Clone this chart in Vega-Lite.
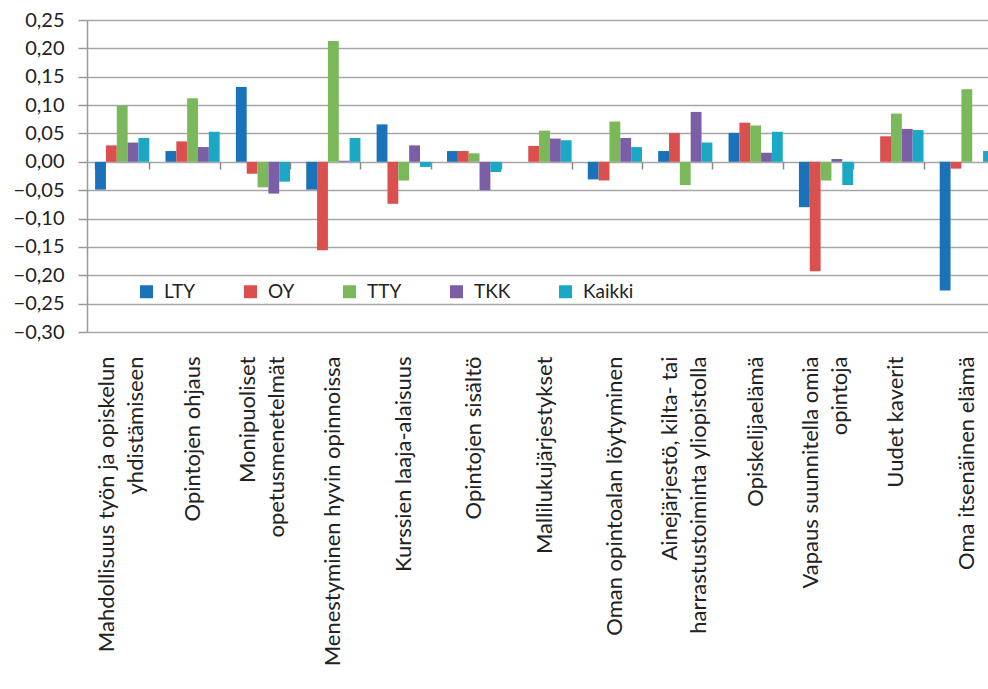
{
  "$schema": "https://vega.github.io/schema/vega-lite/v6.json",
  "autosize": {"type": "none"},
  "width": 901,
  "height": 312,
  "padding": {"left": 87, "top": 20, "right": 0, "bottom": 357},
  "background": "white",
  "config": {
    "font": "Lato",
    "view": {"stroke": null}
  },
  "data": {
    "values": [
      {"cat": "Mahdollisuus työn ja opiskelun|yhdistämiseen", "s": "LTY", "v": -0.049},
      {"cat": "Mahdollisuus työn ja opiskelun|yhdistämiseen", "s": "OY", "v": 0.029},
      {"cat": "Mahdollisuus työn ja opiskelun|yhdistämiseen", "s": "TTY", "v": 0.099},
      {"cat": "Mahdollisuus työn ja opiskelun|yhdistämiseen", "s": "TKK", "v": 0.034},
      {"cat": "Mahdollisuus työn ja opiskelun|yhdistämiseen", "s": "Kaikki", "v": 0.042},
      {"cat": "Opintojen ohjaus", "s": "LTY", "v": 0.019},
      {"cat": "Opintojen ohjaus", "s": "OY", "v": 0.036},
      {"cat": "Opintojen ohjaus", "s": "TTY", "v": 0.112},
      {"cat": "Opintojen ohjaus", "s": "TKK", "v": 0.026},
      {"cat": "Opintojen ohjaus", "s": "Kaikki", "v": 0.053},
      {"cat": "Monipuoliset|opetusmenetelmät", "s": "LTY", "v": 0.132},
      {"cat": "Monipuoliset|opetusmenetelmät", "s": "OY", "v": -0.021},
      {"cat": "Monipuoliset|opetusmenetelmät", "s": "TTY", "v": -0.045},
      {"cat": "Monipuoliset|opetusmenetelmät", "s": "TKK", "v": -0.056},
      {"cat": "Monipuoliset|opetusmenetelmät", "s": "Kaikki", "v": -0.035},
      {"cat": "Menestyminen hyvin opinnoissa", "s": "LTY", "v": -0.049},
      {"cat": "Menestyminen hyvin opinnoissa", "s": "OY", "v": -0.156},
      {"cat": "Menestyminen hyvin opinnoissa", "s": "TTY", "v": 0.213},
      {"cat": "Menestyminen hyvin opinnoissa", "s": "TKK", "v": 0.002},
      {"cat": "Menestyminen hyvin opinnoissa", "s": "Kaikki", "v": 0.042},
      {"cat": "Kurssien laaja-alaisuus", "s": "LTY", "v": 0.066},
      {"cat": "Kurssien laaja-alaisuus", "s": "OY", "v": -0.074},
      {"cat": "Kurssien laaja-alaisuus", "s": "TTY", "v": -0.033},
      {"cat": "Kurssien laaja-alaisuus", "s": "TKK", "v": 0.029},
      {"cat": "Kurssien laaja-alaisuus", "s": "Kaikki", "v": -0.009},
      {"cat": "Opintojen sisältö", "s": "LTY", "v": 0.019},
      {"cat": "Opintojen sisältö", "s": "OY", "v": 0.019},
      {"cat": "Opintojen sisältö", "s": "TTY", "v": 0.015},
      {"cat": "Opintojen sisältö", "s": "TKK", "v": -0.05},
      {"cat": "Opintojen sisältö", "s": "Kaikki", "v": -0.018},
      {"cat": "Mallilukujärjestykset", "s": "LTY", "v": 0.0},
      {"cat": "Mallilukujärjestykset", "s": "OY", "v": 0.028},
      {"cat": "Mallilukujärjestykset", "s": "TTY", "v": 0.055},
      {"cat": "Mallilukujärjestykset", "s": "TKK", "v": 0.041},
      {"cat": "Mallilukujärjestykset", "s": "Kaikki", "v": 0.038},
      {"cat": "Oman opintoalan löytyminen", "s": "LTY", "v": -0.031},
      {"cat": "Oman opintoalan löytyminen", "s": "OY", "v": -0.033},
      {"cat": "Oman opintoalan löytyminen", "s": "TTY", "v": 0.071},
      {"cat": "Oman opintoalan löytyminen", "s": "TKK", "v": 0.042},
      {"cat": "Oman opintoalan löytyminen", "s": "Kaikki", "v": 0.026},
      {"cat": "Ainejärjestö, kilta- tai|harrastustoiminta yliopistolla", "s": "LTY", "v": 0.019},
      {"cat": "Ainejärjestö, kilta- tai|harrastustoiminta yliopistolla", "s": "OY", "v": 0.051},
      {"cat": "Ainejärjestö, kilta- tai|harrastustoiminta yliopistolla", "s": "TTY", "v": -0.041},
      {"cat": "Ainejärjestö, kilta- tai|harrastustoiminta yliopistolla", "s": "TKK", "v": 0.088},
      {"cat": "Ainejärjestö, kilta- tai|harrastustoiminta yliopistolla", "s": "Kaikki", "v": 0.034},
      {"cat": "Opiskelijaelämä", "s": "LTY", "v": 0.051},
      {"cat": "Opiskelijaelämä", "s": "OY", "v": 0.069},
      {"cat": "Opiskelijaelämä", "s": "TTY", "v": 0.064},
      {"cat": "Opiskelijaelämä", "s": "TKK", "v": 0.016},
      {"cat": "Opiskelijaelämä", "s": "Kaikki", "v": 0.053},
      {"cat": "Vapaus suunnitella omia|opintoja", "s": "LTY", "v": -0.08},
      {"cat": "Vapaus suunnitella omia|opintoja", "s": "OY", "v": -0.193},
      {"cat": "Vapaus suunnitella omia|opintoja", "s": "TTY", "v": -0.033},
      {"cat": "Vapaus suunnitella omia|opintoja", "s": "TKK", "v": 0.005},
      {"cat": "Vapaus suunnitella omia|opintoja", "s": "Kaikki", "v": -0.041},
      {"cat": "Uudet kaverit", "s": "LTY", "v": 0.0},
      {"cat": "Uudet kaverit", "s": "OY", "v": 0.045},
      {"cat": "Uudet kaverit", "s": "TTY", "v": 0.085},
      {"cat": "Uudet kaverit", "s": "TKK", "v": 0.058},
      {"cat": "Uudet kaverit", "s": "Kaikki", "v": 0.056},
      {"cat": "Oma itsenäinen elämä", "s": "LTY", "v": -0.227},
      {"cat": "Oma itsenäinen elämä", "s": "OY", "v": -0.012},
      {"cat": "Oma itsenäinen elämä", "s": "TTY", "v": 0.128},
      {"cat": "Oma itsenäinen elämä", "s": "TKK", "v": 0.0},
      {"cat": "Oma itsenäinen elämä", "s": "Kaikki", "v": 0.019}
    ]
  },
  "layer": [
    {
      "mark": {"type": "bar", "orient": "vertical"},
      "encoding": {
        "x": {
          "field": "cat",
          "type": "nominal",
          "sort": null,
          "scale": {"range": [0, 915], "paddingInner": 0.23, "paddingOuter": 0.115},
          "axis": {
            "title": null,
            "domain": false,
            "ticks": false,
            "grid": false,
            "labelAngle": -90,
            "labelAlign": "right",
            "labelBaseline": "middle",
            "labelPadding": 24,
            "labelFontSize": 22,
            "labelLineHeight": 29,
            "labelColor": "#222222",
            "labelFont": "Lato",
            "labelLimit": 0,
            "labelOverlap": false,
            "labelOffset": {"expr": "test(/[|]/, datum.value) ? -15 : 0"},
            "labelExpr": "split(datum.label, '|')"
          }
        },
        "xOffset": {"field": "s", "type": "nominal", "sort": ["LTY", "OY", "TTY", "TKK", "Kaikki"], "scale": {"paddingInner": 0, "paddingOuter": 0}},
        "y": {
          "field": "v",
          "type": "quantitative",
          "scale": {"domain": [-0.3, 0.25], "nice": false, "zero": false},
          "axis": {
            "title": null,
            "values": [-0.3, -0.25, -0.2, -0.15, -0.1, -0.05, 0, 0.05, 0.1, 0.15, 0.2, 0.25],
            "labelExpr": "replace(format(datum.value, '.2f'), '.', ',')",
            "labelFontSize": 20,
            "labelColor": "#222222",
            "labelPadding": 14,
            "tickSize": 9,
            "tickColor": "#999999",
            "tickWidth": 1.5,
            "domainColor": "#999999",
            "domainWidth": 1.5,
            "grid": true,
            "gridColor": "#a6a6a6",
            "gridWidth": 1.5
          }
        },
        "color": {
          "field": "s",
          "type": "nominal",
          "sort": ["LTY", "OY", "TTY", "TKK", "Kaikki"],
          "scale": {"domain": ["LTY", "OY", "TTY", "TKK", "Kaikki"], "range": ["#1a72b8", "#d9504f", "#7ab85a", "#7b5ea6", "#1ba8c4"]},
          "legend": {
            "title": null,
            "orient": "none",
            "direction": "horizontal",
            "legendX": 50,
            "legendY": 262,
            "symbolType": "square",
            "symbolSize": 169,
            "symbolStrokeWidth": 0,
            "labelFontSize": 19,
            "labelColor": "#222222",
            "labelOffset": 8,
            "columnPadding": 45
          }
        }
      }
    },
    {
      "mark": {"type": "rule", "opacity": 0},
      "encoding": {
        "x": {
          "field": "cat",
          "type": "nominal",
          "sort": null,
          "axis": {
            "orient": "bottom",
            "offset": -170,
            "labels": false,
            "domain": false,
            "grid": false,
            "title": null,
            "ticks": true,
            "tickBand": "extent",
            "tickSize": 7,
            "tickColor": "#888888",
            "tickWidth": 1.5
          }
        }
      }
    }
  ],
  "resolve": {"axis": {"x": "independent"}}
}
